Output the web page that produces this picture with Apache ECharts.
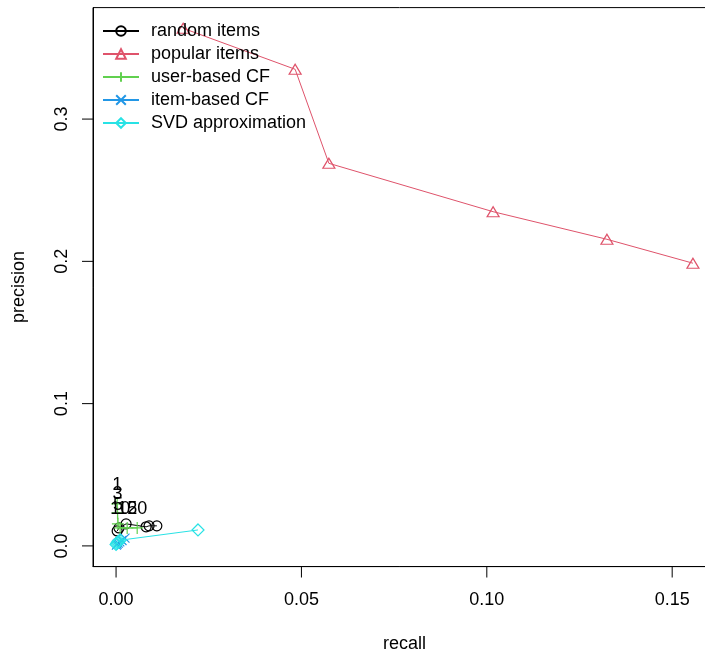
<!DOCTYPE html>
<html><head><meta charset="utf-8">
<script src="https://cdn.jsdelivr.net/npm/echarts@6/dist/echarts.min.js"></script>
<style>html,body{margin:0;padding:0;background:#fff}#c{width:705px;height:655px}</style>
</head><body><div id="c"></div>
<script>
const seriesNames = ['random items', 'popular items', 'user-based CF', 'item-based CF', 'SVD approximation'];
const nLabels = ['1', '3', '5', '10', '15', '20'];

const randomRecall = [0.0003, 0.0008, 0.0027, 0.0081, 0.0089, 0.0110];
const randomPrecision = [0.0105, 0.0126, 0.0155, 0.0134, 0.0141, 0.0141];

const popularRecall = [0.0181, 0.0483, 0.0574, 0.1017, 0.1324, 0.1556];
const popularPrecision = [0.3638, 0.3350, 0.2689, 0.2349, 0.2155, 0.1987];

const ubcfRecall = [0.0003, 0.0004, 0.0005, 0.0011, 0.0030, 0.0057];
const ubcfPrecision = [0.0295, 0.0232, 0.0155, 0.0126, 0.0126, 0.0126];

const ibcfRecall = [0.0001, 0.0003, 0.0006, 0.0010, 0.0016, 0.0024];
const ibcfPrecision = [0.0005, 0.0012, 0.0020, 0.0028, 0.0038, 0.0055];

const svdRecall = [0.0000, 0.0002, 0.0004, 0.0007, 0.0011, 0.0221];
const svdPrecision = [0.0010, 0.0018, 0.0026, 0.0032, 0.0040, 0.0112];

const xTicks = [0, 0.05, 0.10, 0.15];
const yTicks = [0, 0.1, 0.2, 0.3];

const X_MIN = -0.00622, X_MAX = 0.16182;
const Y_MIN = -0.01455, Y_MAX = 0.37835;

const colors = ['#000000', '#DF536B', '#61D04F', '#2297E6', '#28E2E5'];
const symbols = [
  'path://M10,5 A5,5 0 1,1 0,5 A5,5 0 1,1 10,5 Z',
  'path://M5,0 L10,9 L0,9 Z',
  'path://M0,5 L10,5 M5,0 L5,10',
  'path://M0,0 L10,10 M10,0 L0,10',
  'path://M5,0 L10,5 L5,10 L0,5 Z'
];
const sizes = [10, [12, 10], 12, 9, 12];

function pairs(xs, ys) { return xs.map((x, i) => [x, ys[i]]); }
const allData = [
  pairs(randomRecall, randomPrecision),
  pairs(popularRecall, popularPrecision),
  pairs(ubcfRecall, ubcfPrecision),
  pairs(ibcfRecall, ibcfPrecision),
  pairs(svdRecall, svdPrecision)
];

const FONT = 'Liberation Sans, Arial, Helvetica, sans-serif';

const series = seriesNames.map((name, i) => {
  const s = {
    name: name,
    type: 'line',
    data: allData[i],
    symbol: symbols[i],
    symbolSize: sizes[i],
    showAllSymbol: true,
    lineStyle: { color: colors[i], width: 1 },
    itemStyle: { color: 'transparent', borderColor: colors[i], borderWidth: 1.2 },
    emphasis: { disabled: true },
    animation: false,
    z: 2 + i
  };
  if (i === 2) {
    s.label = {
      show: true, position: 'top', distance: 3, color: '#000', fontSize: 18,
      fontFamily: FONT,
      formatter: p => nLabels[p.dataIndex]
    };
  }
  return s;
});

// tick marks are drawn as part of each axis label (rich text block)
const tickRich = {
  tick: { width: 1, height: 11, lineHeight: 11, fontSize: 8, backgroundColor: '#000', color: 'transparent' },
  num: { fontSize: 18, lineHeight: 18, color: '#000', fontFamily: FONT }
};

const chart = echarts.init(document.getElementById('c'), null, { renderer: 'canvas' });
chart.setOption({
  backgroundColor: '#fff',
  animation: false,
  textStyle: { fontFamily: FONT },
  grid: {
    left: 93, top: 7.6, width: 623, height: 559,
    outerBoundsMode: 'none', containLabel: false,
    show: true, borderColor: '#000', borderWidth: 1, backgroundColor: 'transparent'
  },
  legend: {
    orient: 'vertical', left: 97, top: 17,
    itemWidth: 36, itemHeight: 12, itemGap: 5,
    textStyle: { fontSize: 18, color: '#000', lineHeight: 18, padding: [0, 0, 0, 7], fontFamily: FONT },
    data: seriesNames
  },
  xAxis: {
    type: 'value', min: X_MIN, max: X_MAX,
    position: 'bottom',
    axisLine: { show: true, onZero: false, lineStyle: { color: '#000', width: 1 } },
    splitLine: { show: false },
    axisTick: { show: false },
    axisLabel: {
      customValues: xTicks, margin: 0,
      formatter: v => '{tick| }\n{xgap| }\n{num|' + v.toFixed(2) + '}',
      rich: Object.assign({ xgap: { height: 13, lineHeight: 13, fontSize: 8 } }, tickRich)
    },
    name: 'recall', nameLocation: 'middle', nameGap: 68,
    nameTextStyle: { fontSize: 18, color: '#000', fontFamily: FONT }
  },
  yAxis: {
    type: 'value', min: Y_MIN, max: Y_MAX,
    position: 'left',
    axisLine: { show: true, onZero: false, lineStyle: { color: '#000', width: 1 } },
    splitLine: { show: false },
    axisTick: { show: false },
    axisLabel: {
      customValues: yTicks, margin: 0, rotate: 90,
      formatter: v => '{num|' + v.toFixed(1) + '}\n{ygap| }\n{tick| }',
      rich: Object.assign({ ygap: { height: 11, lineHeight: 11, fontSize: 8 } }, tickRich)
    },
    name: 'precision', nameLocation: 'middle', nameGap: 65,
    nameTextStyle: { fontSize: 18, color: '#000', fontFamily: FONT }
  },
  series: series
});
</script>
</body></html>
